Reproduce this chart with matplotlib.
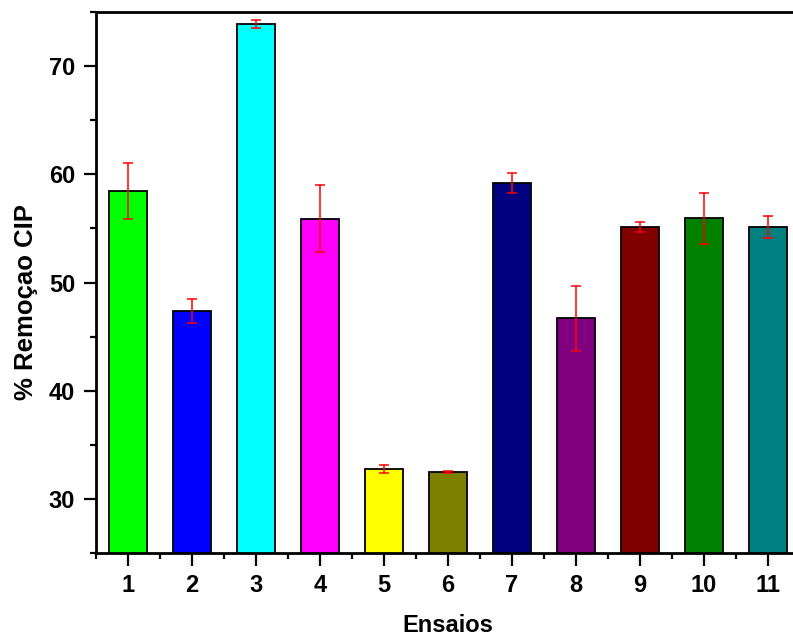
"""Bar chart of CIP removal per trial (ensaios) with error bars."""

import matplotlib

matplotlib.use("Agg")
import matplotlib.pyplot as plt
from matplotlib.ticker import MultipleLocator

plt.rcParams["font.family"] = ["Liberation Sans", "DejaVu Sans"]
plt.rcParams["font.weight"] = "bold"

ensaios = [1, 2, 3, 4, 5, 6, 7, 8, 9, 10, 11]
remocao = [58.45, 47.35, 73.9, 55.9, 32.75, 32.5, 59.2, 46.7, 55.15, 55.95, 55.1]
erro = [2.6, 1.1, 0.4, 3.1, 0.4, 0.08, 0.95, 3.0, 0.45, 2.35, 1.0]
cores = ["#00ff00", "#0000ff", "#00ffff", "#ff00ff", "#ffff00", "#808000",
         "#000080", "#800080", "#800000", "#008000", "#008080"]

fig = plt.figure(figsize=(7.93, 6.39), dpi=100)
ax = fig.add_axes([96 / 793, 1 - 553 / 639, 704 / 793, 541 / 639])

ax.bar(ensaios, remocao, width=0.6, color=cores, edgecolor="black",
       linewidth=1.3, zorder=2)
ax.errorbar(ensaios, remocao, yerr=erro, fmt="none", ecolor="red",
            elinewidth=1.1, capsize=3.5, capthick=1.1, zorder=3)

ax.set_xlim(0.5, 11.5)
ax.set_ylim(25, 75)
ax.set_xticks(ensaios)
ax.xaxis.set_minor_locator(plt.FixedLocator([i + 0.5 for i in range(0, 12)]))
ax.yaxis.set_minor_locator(MultipleLocator(5))
ax.set_yticks([30, 40, 50, 60, 70])

for side in ax.spines.values():
    side.set_linewidth(2)
ax.tick_params(which="both", direction="out", width=1.6, top=False, right=False)
ax.tick_params(which="major", length=9, labelsize=17, pad=6)
ax.tick_params(which="minor", length=4.5)

ax.set_xlabel("Ensaios", fontsize=17, fontweight="bold")
ax.set_ylabel("% Remoçao CIP", fontsize=18.5, fontweight="bold")
ax.xaxis.set_label_coords(0.5, -(632 - 553) / 541)
ax.xaxis.label.set_va("baseline")
ax.yaxis.set_label_coords((26 - 96) / 704, 1 - (302 - 12) / 541)
ax.yaxis.label.set_va("center")

fig.savefig("out.png", dpi=100)
